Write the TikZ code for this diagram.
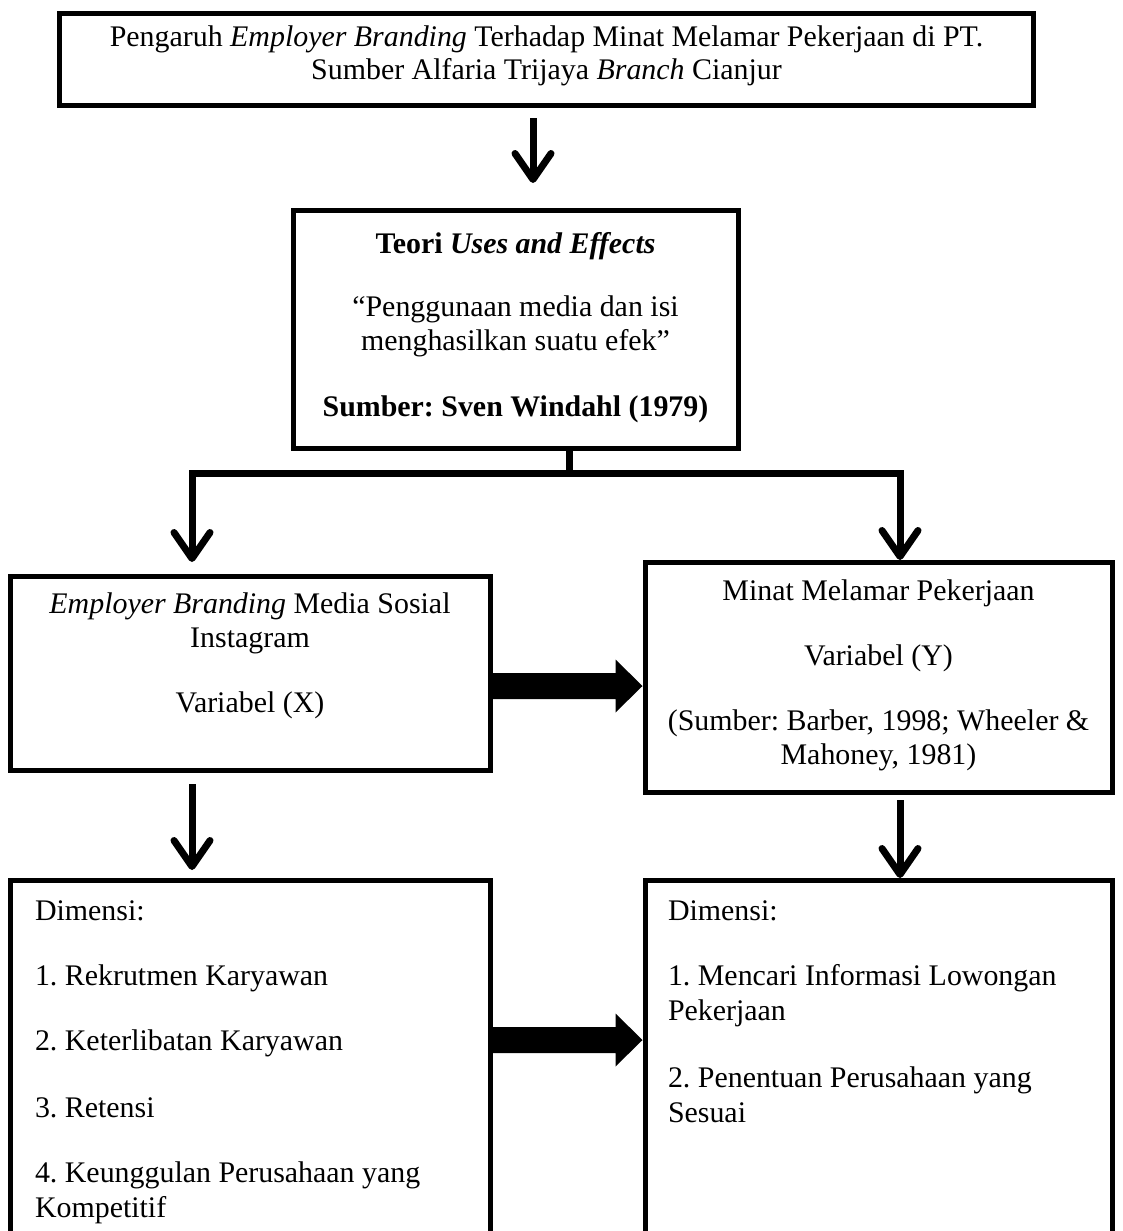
\documentclass[tikz,border=0pt]{standalone}
\usepackage{fontspec}
\setmainfont{Liberation Serif}
\usetikzlibrary{arrows.meta,calc}
\frenchspacing
\begin{document}
\begin{tikzpicture}[x=1pt,y=-1pt,
  box/.style={draw, line width=5pt, inner sep=0pt, outer sep=0pt},
  txt/.style={inner sep=0pt, outer sep=0pt, font=\fontsize{29.9}{34.4}\selectfont},
  conn/.style={line width=7pt},
  downarrow/.style={conn, -{Straight Barb[round,length=26pt,width=36pt]}},
  blockarrow/.style={fill=black}
]
\useasboundingbox (0,0) rectangle (1123,1231);
\clip (0,0) rectangle (1123,1231);
\fill[white] (0,0) rectangle (1123,1231);

% boxes
\node[box, minimum width=974pt, minimum height=92pt] (topbox) at (546.5,59.5) {};
\node[box, minimum width=445pt, minimum height=238pt] (theory) at (515.5,329) {};
\node[box, minimum width=480pt, minimum height=194pt] (xbox) at (250,673) {};
\node[box, minimum width=467pt, minimum height=230pt] (ybox) at (878.5,677) {};
\node[box, minimum width=480pt, minimum height=380pt] (dimx) at (250,1070) {};
\node[box, minimum width=467pt, minimum height=380pt] (dimy) at (878.5,1070) {};

% texts
\node[txt, anchor=base] (t1) at (546.5,47) {Pengaruh \emph{Employer Branding} Terhadap Minat Melamar Pekerjaan di PT.};
\node[txt, anchor=base] (t2) at (546.5,80) {Sumber Alfaria Trijaya \emph{Branch} Cianjur};

\node[txt, anchor=base] (th1) at (515.5,253) {\textbf{Teori \emph{Uses and Effects}}};
\node[txt, anchor=base] (th2) at (515.5,316) {“Penggunaan media dan isi};
\node[txt, anchor=base] (th3) at (515.5,350) {menghasilkan suatu efek”};
\node[txt, anchor=base] (th4) at (515.5,416) {\textbf{Sumber: Sven Windahl (1979)}};

\node[txt, anchor=base] (x1) at (250,613) {\emph{Employer Branding} Media Sosial};
\node[txt, anchor=base] (x2) at (250,647) {Instagram};
\node[txt, anchor=base] (x3) at (250,712) {Variabel (X)};

\node[txt, anchor=base] (y1) at (878.5,600) {Minat Melamar Pekerjaan};
\node[txt, anchor=base] (y2) at (878.5,665) {Variabel (Y)};
\node[txt, anchor=base] (y3) at (878.5,730) {(Sumber: Barber, 1998; Wheeler \&};
\node[txt, anchor=base] (y4) at (878.5,764) {Mahoney, 1981)};

\node[txt, anchor=base west] (dx0) at (35,920) {Dimensi:};
\node[txt, anchor=base west] (dx1) at (35,985) {1. Rekrutmen Karyawan};
\node[txt, anchor=base west] (dx2) at (35,1050) {2. Keterlibatan Karyawan};
\node[txt, anchor=base west] (dx3) at (35,1117) {3. Retensi};
\node[txt, anchor=base west] (dx4) at (35,1182) {4. Keunggulan Perusahaan yang};
\node[txt, anchor=base west] (dx5) at (35,1217) {Kompetitif};

\node[txt, anchor=base west] (dy0) at (668,920) {Dimensi:};
\node[txt, anchor=base west] (dy1) at (668,985) {1. Mencari Informasi Lowongan};
\node[txt, anchor=base west] (dy2) at (668,1020) {Pekerjaan};
\node[txt, anchor=base west] (dy3) at (668,1087) {2. Penentuan Perusahaan yang};
\node[txt, anchor=base west] (dy4) at (668,1122) {Sesuai};

% connector coordinates
\coordinate (a1s) at (533,118);
\coordinate (a1t) at (533,183);
\coordinate (stemtop) at (569,448);
\coordinate (stembot) at (569,473);
\coordinate (brL) at (192,473);
\coordinate (brR) at (900,473);
\coordinate (tipL) at (192,562);
\coordinate (tipR) at (900,560);
\coordinate (a3s) at (192,784);
\coordinate (a3t) at (192,870);
\coordinate (a4s) at (900,800);
\coordinate (a4t) at (900,878);

% connectors
\draw[downarrow] (a1s) -- (a1t);
\draw[conn] (stemtop) -- (stembot);
\draw[conn, line join=miter, {Straight Barb[round,length=26pt,width=36pt]}-{Straight Barb[round,length=26pt,width=36pt]}] (tipL) -- (brL) -- (brR) -- (tipR);
\draw[downarrow] (a3s) -- (a3t);
\draw[downarrow] (a4s) -- (a4t);

% block arrows
\coordinate (b1s) at (xbox.east |- 0,686);
\coordinate (b1t) at ($(ybox.west |- 0,686)+(-2.5,0)$);
\fill[blockarrow] ($(b1s)+(0,-13)$) -- ($(b1t)+(-27,-13)$) -- ($(b1t)+(-27,-26.5)$) -- (b1t)
   -- ($(b1t)+(-27,26.5)$) -- ($(b1t)+(-27,13)$) -- ($(b1s)+(0,13)$) -- cycle;
\coordinate (b2s) at (dimx.east |- 0,1040);
\coordinate (b2t) at ($(dimy.west |- 0,1040)+(-2.5,0)$);
\fill[blockarrow] ($(b2s)+(0,-13)$) -- ($(b2t)+(-27,-13)$) -- ($(b2t)+(-27,-26.5)$) -- (b2t)
   -- ($(b2t)+(-27,26.5)$) -- ($(b2t)+(-27,13)$) -- ($(b2s)+(0,13)$) -- cycle;
\end{tikzpicture}
\end{document}
